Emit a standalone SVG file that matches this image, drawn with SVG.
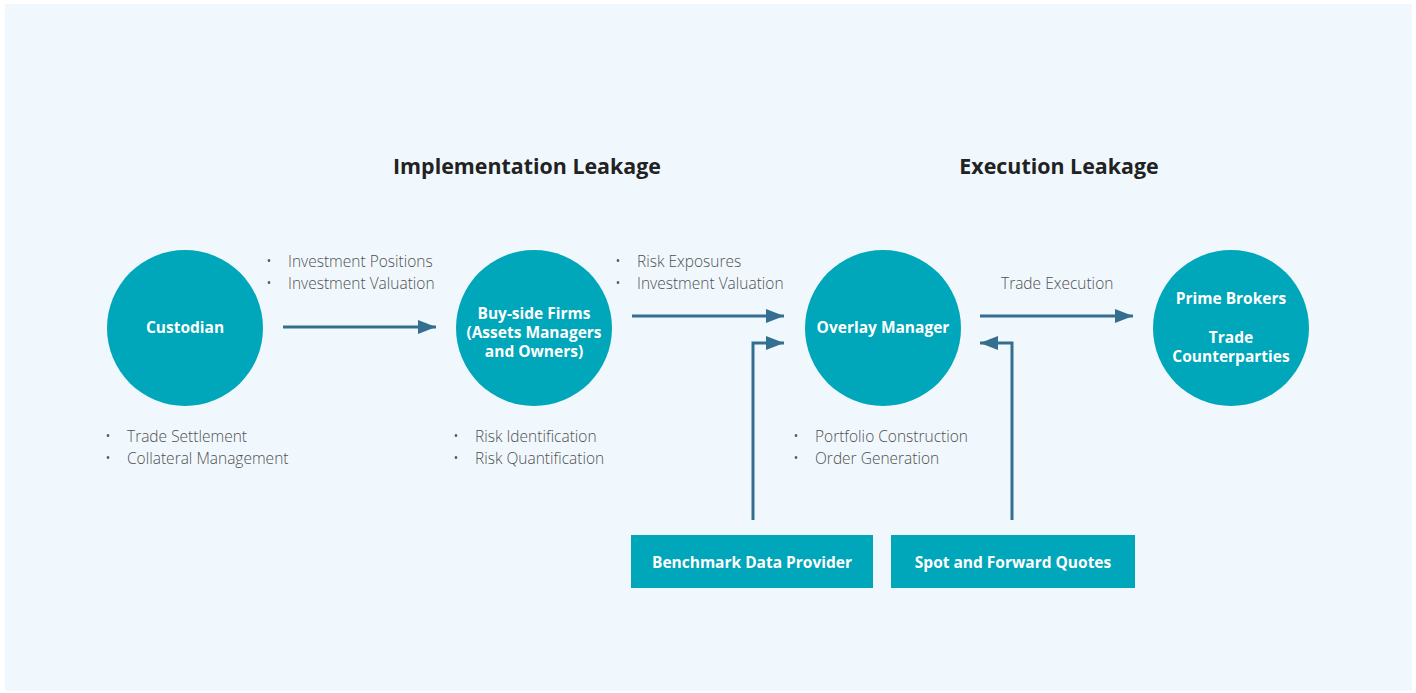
<svg xmlns="http://www.w3.org/2000/svg" width="1416" height="693" viewBox="0 0 1416 693">
<defs>
<marker id="ah" markerWidth="18" markerHeight="14" refX="18" refY="7" orient="auto" markerUnits="userSpaceOnUse">
<path d="M0,0 L18,7 L0,14 Z" fill="#356f8f"/>
</marker>
<style>
.node{fill:#00a6b9}
.lbl{font-family:"Open Sans","Noto Sans",sans-serif;font-size:15.5px;font-weight:700;fill:#ffffff;text-anchor:middle}
.head{font-family:"Open Sans","Noto Sans",sans-serif;font-size:21.4px;font-weight:700;fill:#222222;text-anchor:middle}
.txt{font-family:"Open Sans","Noto Sans",sans-serif;font-size:15.5px;font-weight:300;fill:#505050}
.conn{stroke:#356f8f;stroke-width:3;fill:none}
</style>
</defs>
<rect x="0" y="0" width="1416" height="693" fill="#ffffff"/>
<rect x="5" y="4" width="1407" height="687" fill="#f0f8fe"/>
<text class="head" x="527" y="174">Implementation Leakage</text>
<text class="head" x="1059" y="174">Execution Leakage</text>
<g id="custodian">
<circle class="node" cx="185" cy="328" r="78"/>
<text class="lbl" x="185" y="333">Custodian</text>
</g>
<g id="buyside">
<circle class="node" cx="534" cy="328" r="78"/>
<text class="lbl" x="534" y="319">Buy-side Firms</text>
<text class="lbl" x="534" y="338">(Assets Managers</text>
<text class="lbl" x="534" y="357">and Owners)</text>
</g>
<g id="overlay">
<circle class="node" cx="883" cy="328" r="78"/>
<text class="lbl" x="883" y="333">Overlay Manager</text>
</g>
<g id="prime">
<circle class="node" cx="1231" cy="328" r="78"/>
<text class="lbl" x="1231" y="304">Prime Brokers</text>
<text class="lbl" x="1231" y="343">Trade</text>
<text class="lbl" x="1231" y="362">Counterparties</text>
</g>
<g id="benchmark">
<rect class="node" x="631" y="535" width="242" height="53"/>
<text class="lbl" x="752" y="568">Benchmark Data Provider</text>
</g>
<g id="spot">
<rect class="node" x="891" y="535" width="244" height="53"/>
<text class="lbl" x="1013" y="568">Spot and Forward Quotes</text>
</g>
<g id="connectors">
<line class="conn" x1="283" y1="327" x2="436" y2="327" marker-end="url(#ah)"/>
<line class="conn" x1="632" y1="316" x2="784" y2="316" marker-end="url(#ah)"/>
<polyline class="conn" points="753,520 753,343 784,343" marker-end="url(#ah)"/>
<line class="conn" x1="980" y1="316" x2="1133" y2="316" marker-end="url(#ah)"/>
<polyline class="conn" points="1012,520 1012,343 980,343" marker-end="url(#ah)"/>
</g>
<g id="labels">
<text class="txt" x="266" y="267">•</text><text class="txt" x="288" y="267">Investment Positions</text>
<text class="txt" x="266" y="289">•</text><text class="txt" x="288" y="289">Investment Valuation</text>
<text class="txt" x="615" y="267">•</text><text class="txt" x="637" y="267">Risk Exposures</text>
<text class="txt" x="615" y="289">•</text><text class="txt" x="637" y="289">Investment Valuation</text>
<text class="txt" x="1001" y="289">Trade Execution</text>
<text class="txt" x="105" y="442">•</text><text class="txt" x="127" y="442">Trade Settlement</text>
<text class="txt" x="105" y="464">•</text><text class="txt" x="127" y="464">Collateral Management</text>
<text class="txt" x="453" y="442">•</text><text class="txt" x="475" y="442">Risk Identification</text>
<text class="txt" x="453" y="464">•</text><text class="txt" x="475" y="464">Risk Quantification</text>
<text class="txt" x="793" y="442">•</text><text class="txt" x="815" y="442">Portfolio Construction</text>
<text class="txt" x="793" y="464">•</text><text class="txt" x="815" y="464">Order Generation</text>
</g>
</svg>
